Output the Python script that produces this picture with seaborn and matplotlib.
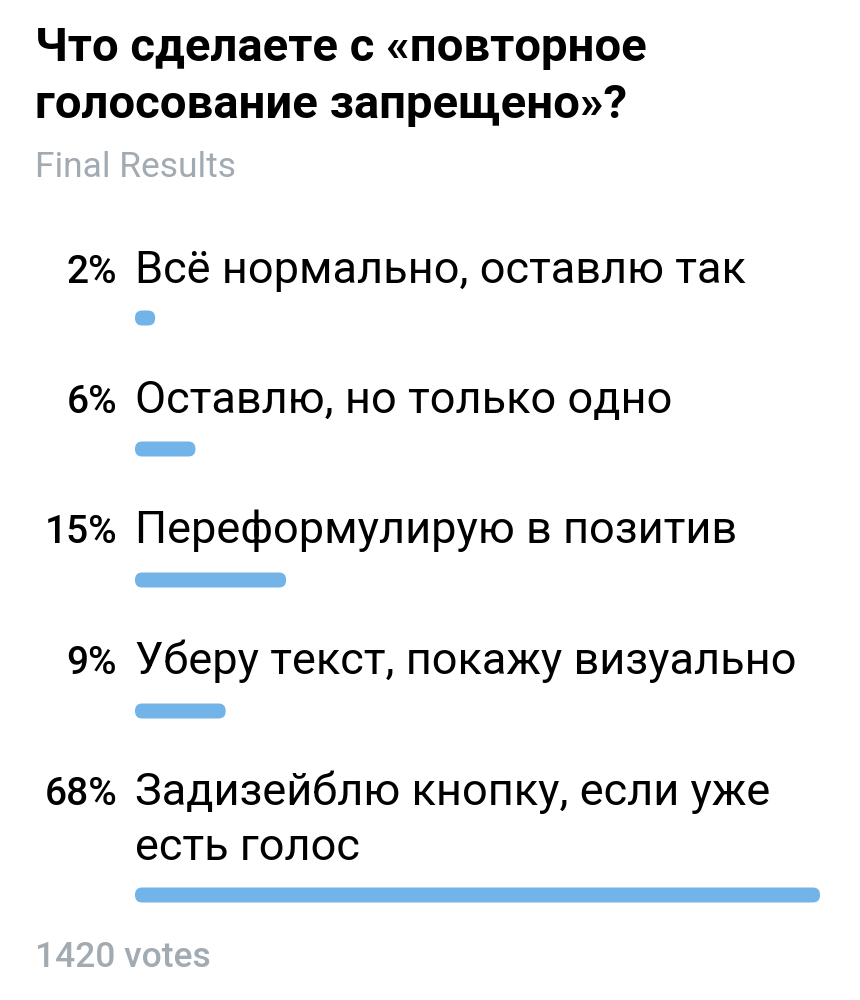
import matplotlib
matplotlib.use("Agg")
import matplotlib.pyplot as plt
from matplotlib.patches import FancyBboxPatch
import pandas as pd
import seaborn as sns

# Poll data
title_lines = ["Что сделаете с «повторное", "голосование запрещено»?"]
subtitle = "Final Results"
options = [
    "Всё нормально, оставлю так",
    "Оставлю, но только одно",
    "Переформулирую в позитив",
    "Уберу текст, покажу визуально",
    "Задизейблю кнопку, если уже\nесть голос",
]
percents = [2, 6, 15, 9, 68]
total_votes = 1420

sns.set_theme(style="white")
plt.rcParams['font.family'] = ['Roboto', 'DejaVu Sans']

W, H = 860, 1000
fig = plt.figure(figsize=(W / 100, H / 100), dpi=100)
fig.patch.set_facecolor('white')

BLACK = '#000000'
GREY = '#A2AAB2'
BAR = '#72B4E8'


def fx(px):
    return px / W


def fy(py):
    return 1 - py / H


# Header
fig.text(fx(35), fy(61), title_lines[0], fontsize=34, fontweight='bold',
         color=BLACK, va='baseline', ha='left')
fig.text(fx(35), fy(118), title_lines[1], fontsize=34, fontweight='bold',
         color=BLACK, va='baseline', ha='left')
fig.text(fx(35), fy(177), subtitle, fontsize=25.5, color=GREY,
         va='baseline', ha='left')

# Layout of each option row (pixel baselines / bar centres)
label_baselines = [283, 413, 543, 674, 805]
line_gap = 55
bar_centres = [318, 449, 580, 711, 895]

for pct, label, base in zip(percents, options, label_baselines):
    fig.text(fx(117), fy(base), f"{pct}%", fontsize=28, fontweight=500,
             color=BLACK, va='baseline', ha='right')
    for i, line in enumerate(label.split("\n")):
        fig.text(fx(135), fy(base + i * line_gap), line, fontsize=32.5,
                 color=BLACK, va='baseline', ha='left')

fig.text(fx(35), fy(967), f"{total_votes} votes", fontsize=25.5, fontweight=500,
         color=GREY, va='baseline', ha='left')

# Bars: x scaled to the largest share, y in pixel rows
ax = fig.add_axes([fx(135), 0, (820 - 135) / W, 1])
df = pd.DataFrame({'pct': percents, 'row': bar_centres})
sns.barplot(data=df, x='pct', y='row', orient='h', native_scale=True,
            color=BAR, saturation=1, ax=ax)
ax.set_xlim(0, max(percents))
ax.set_ylim(H, 0)
ax.axis('off')

fig.canvas.draw()
aspect = (ax.transData.transform((1, 0))[0] - ax.transData.transform((0, 0))[0]) / \
    abs(ax.transData.transform((0, 1))[1] - ax.transData.transform((0, 0))[1])
bar_h = 15
radius_px = 7.2
for patch, yc in zip(list(ax.patches), bar_centres):
    x0 = patch.get_x()
    w = patch.get_width()
    patch.remove()
    rounded = FancyBboxPatch((x0, yc - bar_h / 2), w, bar_h,
                             boxstyle=f"round,pad=0,rounding_size={radius_px / aspect}",
                             mutation_aspect=aspect, facecolor=BAR,
                             edgecolor='none')
    ax.add_patch(rounded)

fig.savefig('out.png', dpi=100, facecolor='white')
